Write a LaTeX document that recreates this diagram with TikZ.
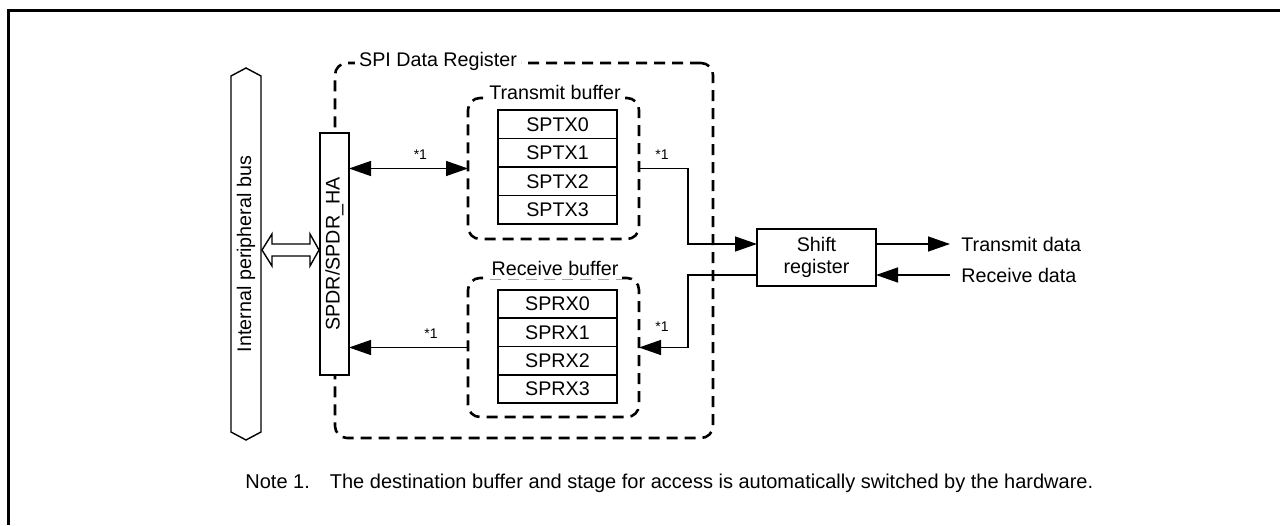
\documentclass[tikz,border=0pt]{standalone}
\usepackage{fontspec}
\setmainfont{Liberation Sans}
\usetikzlibrary{arrows.meta, positioning, calc}

\tikzset{
  cell/.style={draw, line width=0.7pt, minimum width=59.5pt, minimum height=14.25pt, inner sep=0pt, outer sep=0pt},
  bufbox/.style={draw, line width=1.3pt, dash pattern=on 5.5pt off 3.5pt, rounded corners=6pt, inner sep=0pt, outer sep=0pt},
  lbl/.style={fill=white, inner sep=2pt},
  arr/.style={line width=0.7pt, -{Triangle[length=11pt, width=7.5pt]}},
  biarr/.style={line width=0.7pt, {Triangle[length=11pt, width=7.5pt]}-{Triangle[length=11pt, width=7.5pt]}},
  star1/.style={font=\fontsize{7}{8}\selectfont, anchor=south, inner sep=0pt}
}

\begin{document}
\begin{tikzpicture}[x=0.5pt, y=-0.5pt, every node/.style={font=\fontsize{9.85}{11.5}\selectfont}]
        \useasboundingbox (0,0) rectangle (1280,525);
        % Frame
        \draw[line width=1.5pt] (8.5,525) -- (8.5,10.5) -- (1280,10.5);
        % Internal bus
        \draw[line width=0.7pt, fill=white] (231,76) -- (246,68) -- (261,76) -- (261,432)
          -- (246,440) -- (231,432) -- cycle;
        \node (bus) at (246,254) {\rotatebox{90}{Internal peripheral bus}};
        % SPI data register
        \node[bufbox, minimum width=189pt, minimum height=187.5pt] (spdreg) at (524,250.5) {};
        \node[lbl] (spdreglbl) at (438,61) {SPI Data Register};
        \node[draw, fill=white, line width=0.7pt, minimum width=14.5pt, minimum height=121pt,
          inner sep=0pt, outer sep=0pt] (spdr) at (334.5,254) {\rotatebox{90}{SPDR/SPDR\_HA}};
        % Hollow arrow bus <-> SPDR
        \draw[line width=0.7pt, fill=white] (262,250) -- (272,234) -- (272,244) -- (310,244)
          -- (310,234) -- (319,250) -- (310,266) -- (310,256) -- (272,256) -- (272,266) -- cycle;
        % Transmit buffer
        \node[bufbox, minimum width=85.5pt, minimum height=70.5pt] (txbuf) at (553.5,168.5) {};
        \node[lbl] (txlbl) at (555,92) {Transmit buffer};
        \foreach \i in {0,...,3}
          \node[cell] (tx\i) at (557.5,{124.25+28.5*\i}) {SPTX\i};
        % Receive buffer
        \node[bufbox, minimum width=85.5pt, minimum height=69.5pt] (rxbuf) at (553.5,347.5) {};
        \node[lbl] (rxlbl) at (555,268) {Receive buffer};
        \foreach \i in {0,...,3}
          \node[cell] (rx\i) at (557.5,{304.1+28.25*\i}) {SPRX\i};
        % Shift register
        \node[draw, line width=0.7pt, minimum width=59.5pt, minimum height=28.5pt, align=center,
          inner sep=0pt, outer sep=0pt, font=\fontsize{9.85}{10.8}\selectfont] (shift) at (816.5,257.5) {Shift\\register};
        \coordinate (bend) at (688,0);
        \coordinate (txin) at ([yshift=6.75pt]shift.west);
        \coordinate (rxout) at ([yshift=-8.75pt]shift.west);
        \coordinate (txd) at ($(shift.east |- txin)+(74,0)$);
        \coordinate (rxd) at ($(shift.east |- rxout)+(74,0)$);
        % Connections
        \draw[biarr] (spdr.east |- txbuf.west) -- node[star1, pos=0.6, yshift=4.2pt] {*1} (txbuf.west);
        \draw[arr] (rxbuf.west) -- node[star1, pos=0.31, yshift=4.2pt] {*1} (spdr.east |- rxbuf.west);
        \draw[arr] (txbuf.east) -| node[star1, pos=0.235, yshift=4.2pt] {*1} (bend |- txin) -- (txin);
        \draw[arr] (rxout) -| (bend |- rxbuf.east) -- node[star1, pos=0.53, yshift=7.7pt] {*1} (rxbuf.east);
        \draw[arr] (txin -| shift.east) -- (txd);
        \node[anchor=west, inner sep=0pt] (txdlbl) at ([xshift=5.5pt]txd) {Transmit data};
        \draw[arr] (rxd) -- (rxout -| shift.east);
        \node[anchor=west, inner sep=0pt] (rxdlbl) at ([xshift=5.5pt]rxd) {Receive data};
        % Note
        \node[anchor=base west, inner sep=0pt, font=\fontsize{10}{12}\selectfont] (note) at (245,488)
          {Note 1.\hspace{10pt}The destination buffer and stage for access is automatically switched by the hardware.};
      \end{tikzpicture}
\end{document}
